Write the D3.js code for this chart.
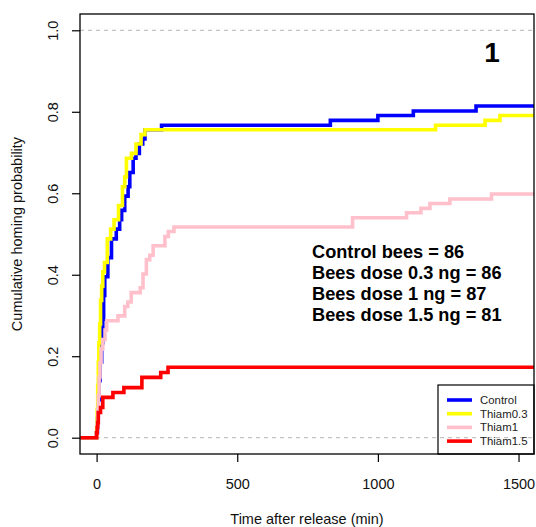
<!DOCTYPE html>
<html>
<head>
<meta charset="utf-8">
<script src="https://cdn.jsdelivr.net/npm/d3@7"></script>
<style>
  html, body { margin: 0; padding: 0; background: #fff; }
  svg { display: block; font-family: "Liberation Sans", Arial, sans-serif; }
</style>
</head>
<body>
<svg id="chart" width="536" height="527"></svg>
<script>
// Cumulative homing curves (step functions): release time (min) and cumulative probability
const seriesNames = ["Control", "Thiam0.3", "Thiam1", "Thiam1.5"];
const seriesColors = ["#0000ff", "#ffff00", "#ffc0cb", "#ff0000"];
const startTime = -58;

const controlTimes = [startTime, 0, 3, 6, 9, 12, 18, 22, 25, 29, 40, 53, 70, 82, 89, 100, 112, 118, 130, 140, 152, 164, 172, 231, 831, 1000, 1126, 1349, 1555];
const controlProb  = [0, 0.012, 0.047, 0.093, 0.140, 0.186, 0.233, 0.291, 0.349, 0.395, 0.442, 0.488, 0.512, 0.535, 0.558, 0.593, 0.616, 0.651, 0.686, 0.698, 0.721, 0.733, 0.756, 0.767, 0.779, 0.791, 0.802, 0.814, 0.814];

const thiam03Times = [startTime, 0, 2, 4, 6, 8, 11, 14, 18, 22, 28, 38, 50, 62, 78, 92, 100, 106, 124, 140, 158, 172, 1205, 1381, 1434, 1555];
const thiam03Prob  = [0, 0.023, 0.070, 0.128, 0.186, 0.233, 0.279, 0.337, 0.372, 0.407, 0.430, 0.488, 0.512, 0.535, 0.570, 0.616, 0.640, 0.686, 0.698, 0.721, 0.744, 0.756, 0.767, 0.779, 0.791, 0.791];

const thiam1Times = [startTime, 0, 2, 4, 6, 9, 12, 16, 22, 30, 36, 76, 100, 111, 123, 155, 165, 177, 189, 201, 243, 255, 275, 910, 1102, 1153, 1185, 1256, 1404, 1555];
const thiam1Prob  = [0, 0.011, 0.034, 0.069, 0.103, 0.149, 0.184, 0.218, 0.241, 0.264, 0.287, 0.299, 0.322, 0.333, 0.356, 0.368, 0.402, 0.437, 0.448, 0.471, 0.494, 0.506, 0.517, 0.540, 0.552, 0.563, 0.575, 0.586, 0.598, 0.598];

const thiam15Times = [startTime, 0, 2, 4, 6, 14, 22, 58, 97, 161, 228, 254, 1555];
const thiam15Prob  = [0, 0.012, 0.025, 0.037, 0.062, 0.074, 0.099, 0.111, 0.123, 0.148, 0.160, 0.173, 0.173];

const xTicks = [0, 500, 1000, 1500];
const yTicks = [0, 0.2, 0.4, 0.6, 0.8, 1.0];
const refLines = [0, 1];
const panelLabel = "1";
const sampleNotes = ["Control bees = 86", "Bees dose 0.3 ng = 86", "Bees dose 1 ng = 87", "Bees dose 1.5 ng = 81"];

const series = [
  { times: controlTimes, prob: controlProb },
  { times: thiam03Times, prob: thiam03Prob },
  { times: thiam1Times, prob: thiam1Prob },
  { times: thiam15Times, prob: thiam15Prob }
];

const svg = d3.select("#chart");
const plot = { left: 80, right: 534, top: 14, bottom: 454 };

const x = d3.scaleLinear().domain([-59, 1555]).range([plot.left, plot.right]);
const y = d3.scaleLinear().domain([-0.04, 1.04]).range([plot.bottom, plot.top]);

svg.append("defs").append("clipPath").attr("id", "clip")
  .append("rect")
  .attr("x", plot.left).attr("y", plot.top)
  .attr("width", plot.right - plot.left).attr("height", plot.bottom - plot.top);

// dashed reference lines at 0 and 1
svg.append("g").selectAll("line").data(refLines).join("line")
  .attr("x1", plot.left).attr("x2", plot.right)
  .attr("y1", d => y(d)).attr("y2", d => y(d))
  .attr("stroke", "#b4b4b4").attr("stroke-width", 1)
  .attr("stroke-dasharray", "4,4");

// step curves
const line = d3.line()
  .x(d => x(d[0])).y(d => y(d[1]))
  .curve(d3.curveStepAfter);

svg.append("g").attr("clip-path", "url(#clip)")
  .selectAll("path").data(series).join("path")
  .attr("d", s => line(s.times.map((t, i) => [t, s.prob[i]])))
  .attr("fill", "none")
  .attr("stroke", (s, i) => seriesColors[i])
  .attr("stroke-width", 3.6)
  .attr("stroke-linejoin", "miter")
  .attr("stroke-linecap", "butt");

// axes
const tickFont = 14.5;
const xAxis = svg.append("g")
  .attr("transform", `translate(0,${plot.bottom})`)
  .call(d3.axisBottom(x).tickValues(xTicks).tickSize(8).tickPadding(17).tickFormat(d3.format("d")));
xAxis.select(".domain").remove();
xAxis.selectAll("line").attr("stroke", "#000").attr("stroke-width", 1.2);
xAxis.selectAll("text").attr("font-size", tickFont).attr("fill", "#111")
  .attr("font-family", "Liberation Sans, Arial, sans-serif");

const yAxis = svg.append("g")
  .attr("transform", `translate(${plot.left},0)`)
  .call(d3.axisLeft(y).tickValues(yTicks).tickSize(8).tickFormat(d3.format(".1f")));
yAxis.select(".domain").remove();
yAxis.selectAll("line").attr("stroke", "#000").attr("stroke-width", 1.2);
yAxis.selectAll("text")
  .attr("font-size", tickFont).attr("fill", "#111")
  .attr("font-family", "Liberation Sans, Arial, sans-serif")
  .attr("x", null).attr("dy", null)
  .attr("text-anchor", "middle")
  .attr("transform", "translate(-22,0) rotate(-90)");

// plot frame
svg.append("rect")
  .attr("x", plot.left).attr("y", plot.top)
  .attr("width", plot.right - plot.left).attr("height", plot.bottom - plot.top)
  .attr("fill", "none").attr("stroke", "#000").attr("stroke-width", 1.3);

// axis titles
svg.append("text")
  .attr("x", (plot.left + plot.right) / 2).attr("y", 524)
  .attr("text-anchor", "middle").attr("font-size", tickFont).attr("fill", "#111")
  .text("Time after release (min)");

svg.append("text")
  .attr("transform", `translate(22,${(plot.top + plot.bottom) / 2}) rotate(-90)`)
  .attr("text-anchor", "middle").attr("font-size", tickFont).attr("fill", "#111")
  .text("Cumulative homing probability");

// panel label and sample sizes
svg.append("text")
  .attr("x", 492).attr("y", 62)
  .attr("text-anchor", "middle").attr("font-size", 28).attr("font-weight", "bold")
  .text(panelLabel);

svg.append("g").selectAll("text").data(sampleNotes).join("text")
  .attr("x", 312).attr("y", (d, i) => 258 + i * 20.9)
  .attr("font-size", 18.2).attr("font-weight", "bold").attr("fill", "#000")
  .text(d => d);

// legend
const legend = svg.append("g");
legend.append("rect")
  .attr("x", 438).attr("y", 385).attr("width", 96).attr("height", 69)
  .attr("fill", "none").attr("stroke", "#000").attr("stroke-width", 1.2);
const rows = legend.selectAll("g.row").data(seriesNames).join("g")
  .attr("class", "row")
  .attr("transform", (d, i) => `translate(0,${400 + i * 13.7})`);
rows.append("line")
  .attr("x1", 447).attr("x2", 472).attr("y1", 0).attr("y2", 0)
  .attr("stroke", (d, i) => seriesColors[i]).attr("stroke-width", 3.6);
rows.append("text")
  .attr("x", 480).attr("y", 4)
  .attr("font-size", 11.4).attr("fill", "#222")
  .text(d => d);
</script>
</body>
</html>
